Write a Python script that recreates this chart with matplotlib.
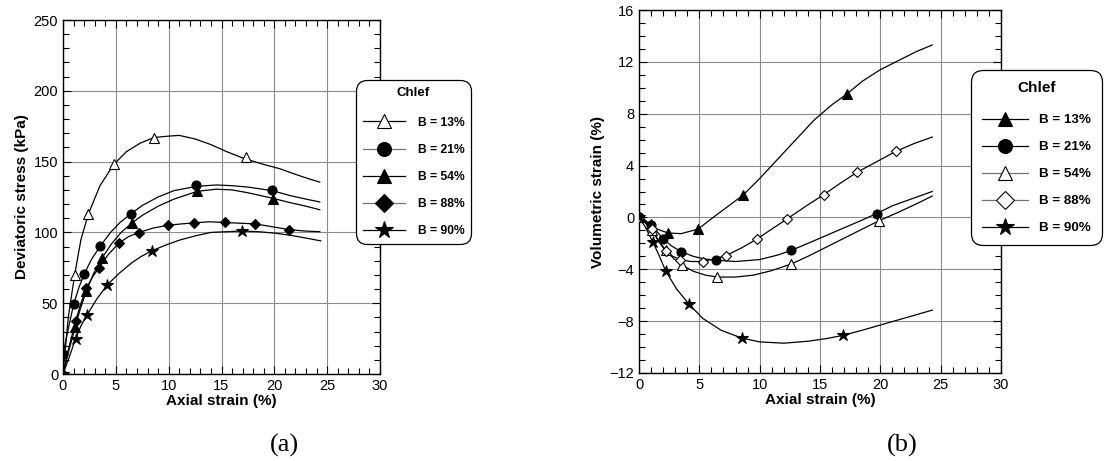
import numpy as np
import matplotlib
matplotlib.use('Agg')
import matplotlib.pyplot as plt
from matplotlib.lines import Line2D
from matplotlib.ticker import MultipleLocator

plt.rcParams['font.family'] = ['Liberation Sans', 'DejaVu Sans']

labels = ['B = 13%', 'B = 21%', 'B = 54%', 'B = 88%', 'B = 90%']

# ---- (a) deviatoric stress vs axial strain ----
q13_x = [0, 0.5, 1.1, 1.7, 2.4, 3.5, 4.8, 6, 7.3, 8.6, 10, 11, 12.5, 14, 15.5, 17.2, 19, 20.5, 22, 23.2, 24.3]
q13_y = [0, 40, 70, 95, 113, 133, 148, 157, 163, 167, 168, 168.5, 166, 162, 157, 152, 148, 145, 141, 138, 135.5]
q21_x = [0, 0.5, 1.0, 1.5, 2.0, 2.7, 3.5, 4.5, 5.4, 6.4, 7.5, 9, 10.5, 12.6, 14.5, 16, 17.5, 19.8, 21.5, 23, 24.3]
q21_y = [14, 32, 49, 61, 70.5, 81, 90, 100, 107, 113, 119, 125, 129.5, 132.5, 133.5, 133, 132, 129.5, 126, 123.5, 121.5]
q54_x = [0, 0.5, 1.15, 1.6, 2.2, 2.9, 3.7, 4.6, 5.5, 6.5, 7.5, 9, 10.5, 12.7, 14.5, 16, 17.5, 19.9, 21.5, 23, 24.3]
q54_y = [0, 15, 33, 45, 58.5, 71, 82, 92, 100, 106.5, 112, 118.5, 123.5, 129, 130.5, 130, 128, 124, 121, 118.5, 116]
q88_x = [0, 0.5, 1.2, 1.7, 2.2, 2.8, 3.4, 4.3, 5.3, 6.2, 7.2, 8.5, 9.9, 11.2, 12.4, 13.8, 15.3, 16.7, 18.2, 19.8, 21.4, 22.8, 24.3]
q88_y = [0, 17, 37.5, 50, 60.5, 68.5, 75, 84.5, 92.5, 97, 100, 103, 105, 106, 106.7, 107.5, 107, 106.5, 106, 104, 102, 101, 100.5]
q90_x = [0, 0.5, 1.2, 1.7, 2.3, 3.2, 4.2, 5.3, 6.5, 7.4, 8.4, 9.7, 11, 12.5, 14, 15.5, 16.9, 18.5, 20, 21.5, 23, 24.4]
q90_y = [0, 10, 25, 34, 42, 53, 63, 71, 78.5, 83, 87, 91, 94.5, 97.5, 100, 100.5, 101, 100.5, 99.5, 98, 96, 94]

# marker points on the stress curves
qm13_x = [1.1, 2.4, 4.85, 8.6, 17.3]
qm13_y = [70, 113, 148, 167, 153]
qm21_x = [0, 1.0, 2.0, 3.5, 6.4, 12.6, 19.8]
qm21_y = [14, 49.5, 70.5, 90.4, 113, 133.5, 130]
qm54_x = [0, 1.15, 2.2, 3.7, 6.5, 12.7, 19.9]
qm54_y = [0, 33, 58.6, 82, 106.6, 129, 123.6]
qm88_x = [0, 1.2, 2.2, 3.4, 5.3, 7.2, 9.9, 12.4, 15.3, 18.2, 21.4]
qm88_y = [0, 37.4, 60.7, 75, 92.5, 99.6, 105, 106.6, 107, 106, 102]
qm90_x = [0, 1.2, 2.3, 4.2, 8.4, 16.9]
qm90_y = [0, 24.7, 41.7, 62.8, 86.9, 101]

# ---- (b) volumetric strain vs axial strain ----
v13_x = [0, 0.5, 1, 1.5, 2.4, 3.5, 4.9, 6, 7.3, 8.6, 10, 11.5, 13, 14.5, 16, 17.2, 18.5, 20, 21.5, 23, 24.3]
v13_y = [0, -0.3, -0.6, -0.9, -1.2, -1.25, -0.9, -0.1, 0.8, 1.7, 3.0, 4.5, 6.0, 7.5, 8.7, 9.5, 10.5, 11.4, 12.1, 12.8, 13.3]
v21_x = [0, 0.5, 1.0, 1.5, 2.0, 2.7, 3.5, 4.5, 5.4, 6.4, 8, 10, 11.5, 12.6, 14, 15.5, 17, 18.5, 19.7, 21, 22.5, 24.3]
v21_y = [0, -0.2, -0.6, -1.1, -1.65, -2.2, -2.65, -3.0, -3.2, -3.3, -3.4, -3.25, -2.9, -2.55, -2.0, -1.4, -0.8, -0.2, 0.3, 0.9, 1.4, 2.0]
v54_x = [0, 0.5, 1.1, 1.6, 2.2, 2.9, 3.6, 4.5, 5.5, 6.5, 8, 9.5, 11, 12.6, 14, 15.5, 17, 18.5, 19.9, 21.5, 23, 24.3]
v54_y = [0, -0.4, -1.0, -1.8, -2.5, -3.2, -3.7, -4.15, -4.45, -4.6, -4.6, -4.45, -4.1, -3.6, -3.0, -2.3, -1.6, -0.9, -0.25, 0.4, 1.05, 1.65]
v88_x = [0, 0.5, 1.1, 1.6, 2.2, 2.8, 3.4, 4.3, 5.3, 6.2, 7.2, 8.5, 9.8, 11, 12.3, 13.8, 15.3, 16.7, 18.1, 19.7, 21.3, 22.8, 24.3]
v88_y = [0, -0.35, -0.9, -1.8, -2.6, -3.0, -3.25, -3.4, -3.4, -3.2, -2.95, -2.35, -1.65, -0.9, -0.1, 0.85, 1.75, 2.65, 3.5, 4.3, 5.1, 5.7, 6.2]
v90_x = [0, 0.5, 1.15, 1.6, 2.2, 3.1, 4.15, 5.3, 6.8, 8.5, 10, 12, 14, 15.5, 16.9, 18.5, 20, 21.5, 23, 24.3]
v90_y = [0, -0.7, -1.9, -2.8, -4.1, -5.5, -6.7, -7.8, -8.7, -9.3, -9.6, -9.7, -9.55, -9.35, -9.1, -8.7, -8.3, -7.9, -7.5, -7.15]

vm13_x = [0, 1.0, 2.4, 4.9, 8.6, 17.2]
vm13_y = [0, -0.5, -1.2, -0.9, 1.7, 9.5]
vm21_x = [0, 1.0, 2.0, 3.5, 6.4, 12.6, 19.7]
vm21_y = [0, -0.6, -1.7, -2.7, -3.3, -2.55, 0.3]
vm54_x = [0, 1.1, 2.2, 3.6, 6.5, 12.6, 19.9]
vm54_y = [0, -1.0, -2.5, -3.7, -4.6, -3.6, -0.25]
vm88_x = [0, 1.1, 2.2, 3.4, 5.3, 7.2, 9.8, 12.3, 15.3, 18.1, 21.3]
vm88_y = [0, -0.9, -2.6, -3.25, -3.4, -2.95, -1.65, -0.1, 1.75, 3.5, 5.1]
vm90_x = [0, 1.15, 2.2, 4.15, 8.5, 16.9]
vm90_y = [0, -1.9, -4.1, -6.7, -9.3, -9.1]

# marker style per series: (marker, facecolor, legend line colour)
style_a = [('^', 'white', 'black'), ('o', 'black', '0.45'), ('^', 'black', 'black'),
           ('D', 'black', '0.45'), ('*', 'black', 'black')]
style_b = [('^', 'black', 'black'), ('o', 'black', 'black'), ('^', 'white', '0.45'),
           ('D', 'white', '0.45'), ('*', 'black', 'black')]

W, H = 1104, 461
fig = plt.figure(figsize=(W / 100, H / 100), dpi=100)
ax1 = fig.add_axes([63 / W, 1 - 374 / H, 317 / W, 354 / H])
ax2 = fig.add_axes([639 / W, 1 - 373 / H, 362 / W, 363 / H])


def draw(ax, curves, marks, styles):
    for (cx, cy), (mx, my), (m, fc, lc) in zip(curves, marks, styles):
        ax.plot(cx, cy, color='black', lw=0.9, zorder=3)
        ms = 9 if m == '*' else (5.5 if m == 'D' else 6.5)
        ax.plot(mx, my, ls='none', marker=m, ms=ms, mfc=fc, mec='black', mew=0.8, zorder=4)


def style_axes(ax, xlab, ylab):
    ax.set_xlim(0, 30)
    ax.xaxis.set_major_locator(MultipleLocator(5))
    ax.xaxis.set_minor_locator(MultipleLocator(1))
    ax.grid(True, which='major', color='0.55', lw=0.8)
    ax.set_axisbelow(True)
    ax.tick_params(which='both', direction='in', top=True, right=True, labelsize=10.5)
    ax.tick_params(which='major', length=6, width=0.8)
    ax.tick_params(which='minor', length=4, width=0.8)
    for s in ax.spines.values():
        s.set_linewidth(1.0)
    ax.set_xlabel(xlab, fontsize=11, fontweight='bold', labelpad=1)
    ax.set_ylabel(ylab, fontsize=11, fontweight='bold', labelpad=3)


def legend(styles, anchor, size, title_size, spacing, pad, title_gap, textpad):
    handles = []
    for m, fc, lc in styles:
        ms = 13 if m == '*' else (9 if m == 'D' else 10)
        handles.append(Line2D([0], [0], color=lc, lw=0.9, marker=m, ms=ms,
                              mfc=fc, mec='black', mew=0.8))
    leg = fig.legend(handles, labels, loc='upper left', bbox_to_anchor=anchor,
                     title='Chlef', fancybox=True, framealpha=1, edgecolor='black',
                     prop={'weight': 'bold', 'size': size},
                     title_fontproperties={'weight': 'bold', 'size': title_size},
                     handlelength=3.5, handletextpad=textpad, labelspacing=spacing,
                     borderpad=pad, borderaxespad=0)
    # wider gap between the title and the entries
    leg._legend_box.sep = title_gap
    leg.get_frame().set_linewidth(0.9)
    leg.get_frame().set_boxstyle('round', pad=0, rounding_size=0.9)


draw(ax1, [(q13_x, q13_y), (q21_x, q21_y), (q54_x, q54_y), (q88_x, q88_y), (q90_x, q90_y)],
     [(qm13_x, qm13_y), (qm21_x, qm21_y), (qm54_x, qm54_y), (qm88_x, qm88_y), (qm90_x, qm90_y)], style_a)
style_axes(ax1, 'Axial strain (%)', 'Deviatoric stress (kPa)')
ax1.set_ylim(0, 250)
ax1.yaxis.set_major_locator(MultipleLocator(50))
ax1.yaxis.set_minor_locator(MultipleLocator(10))

draw(ax2, [(v13_x, v13_y), (v21_x, v21_y), (v54_x, v54_y), (v88_x, v88_y), (v90_x, v90_y)],
     [(vm13_x, vm13_y), (vm21_x, vm21_y), (vm54_x, vm54_y), (vm88_x, vm88_y), (vm90_x, vm90_y)], style_b)
style_axes(ax2, 'Axial strain (%)', 'Volumetric strain (%)')
ax2.set_ylim(-12, 16)
ax2.yaxis.set_major_locator(MultipleLocator(4))
ax2.yaxis.set_minor_locator(MultipleLocator(1))

legend(style_a, (356 / W, 1 - 80 / H), 8.7, 9.5, 1.25, 0.55, 13, 1.05)
legend(style_b, (971 / W, 1 - 70 / H), 9.6, 11, 1.1, 0.8, 14, 0.8)

fig.text(284 / W, 1 - 445 / H, '(a)', family='Liberation Serif', fontsize=19, ha='center', va='center')
fig.text(902 / W, 1 - 445 / H, '(b)', family='Liberation Serif', fontsize=19, ha='center', va='center')

fig.savefig('out.png', dpi=100)
